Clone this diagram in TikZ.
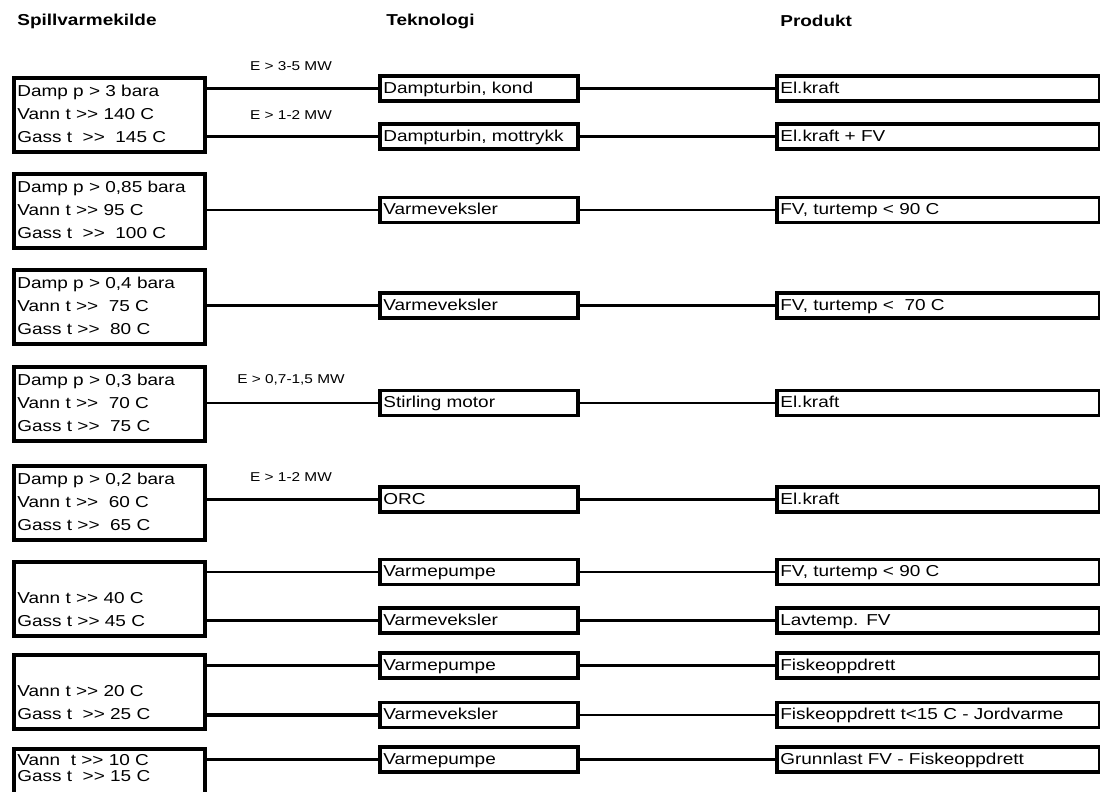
\documentclass[tikz,border=0pt]{standalone}
\usepackage{fontspec}
\setmainfont{Liberation Sans}[FakeStretch=1.2, Ligatures=TeXOff]
\begin{document}
\begin{tikzpicture}[x=0.02cm, y=-0.02cm,
        kilde/.style={draw, line width=2.1pt, anchor=north west, inner xsep=2pt, inner ysep=0pt,
            text width=3.68cm, minimum height=1.48cm, align=left, font=\fontsize{9}{13}\selectfont},
        tekno/.style={draw, line width=2.1pt, anchor=west, inner xsep=2pt, inner ysep=0pt,
            text width=3.82cm, minimum height=0.5cm, align=left, font=\fontsize{9}{13}\selectfont},
        produkt/.style={tekno, text width=6.32cm},
        effekt/.style={inner sep=0pt, font=\fontsize{7.3}{9}\selectfont},
        overskrift/.style={anchor=west, inner sep=0pt, font=\bfseries\fontsize{9}{11}\selectfont},
        link/.style={line width=1.5pt}]
            \def\kildex{12}
            \def\teknox{378}
            \def\produktx{775}
            \def\effektx{291}
            \clip (0,0) rectangle (1100,792);
            % kolonneoverskrifter
            \node[overskrift] (hKilde) at (17, 21) {Spillvarmekilde};
            \node[overskrift] (hTekno) at (386, 21) {Teknologi};
            \node[overskrift] (hProd) at (780, 21) {Produkt};
            % spillvarmekilder
            \node[kilde] (K1) at (\kildex, 76) {\strut Damp p > 3 bara\\\strut Vann t >> 140 C\\\strut Gass t~ >>~ 145 C};
            \node[kilde] (K2) at (\kildex, 172) {\strut Damp p > 0,85 bara\\\strut Vann t >> 95 C\\\strut Gass t~ >>~ 100 C};
            \node[kilde] (K3) at (\kildex, 268) {\strut Damp p > 0,4 bara\\\strut Vann t >>~ 75 C\\\strut Gass t >>~ 80 C};
            \node[kilde] (K4) at (\kildex, 365) {\strut Damp p > 0,3 bara\\\strut Vann t >>~ 70 C\\\strut Gass t >>~ 75 C};
            \node[kilde] (K5) at (\kildex, 464) {\strut Damp p > 0,2 bara\\\strut Vann t >>~ 60 C\\\strut Gass t >>~ 65 C};
            \node[kilde] (K6) at (\kildex, 560) {\strut\\\strut Vann t >> 40 C\\\strut Gass t >> 45 C};
            \node[kilde] (K7) at (\kildex, 653) {\strut\\\strut Vann t >> 20 C\\\strut Gass t~ >> 25 C};
            \node[kilde, minimum height=1.12cm] (K8) at (\kildex, 747) {\strut Vann~ t >> 10 C\\[-4pt]\strut Gass t~ >> 15 C\\[-4pt]\strut};
            % teknologier
            \node[tekno] (T1) at (\teknox, 88.5) {\strut Dampturbin, kond};
            \node[tekno] (T2) at (\teknox, 136.5) {\strut Dampturbin, mottrykk};
            \node[tekno] (T3) at (\teknox, 210) {\strut Varmeveksler};
            \node[tekno] (T4) at (\teknox, 305.5) {\strut Varmeveksler};
            \node[tekno] (T5) at (\teknox, 403) {\strut Stirling motor};
            \node[tekno] (T6) at (\teknox, 499.5) {\strut ORC};
            \node[tekno] (T7) at (\teknox, 572) {\strut Varmepumpe};
            \node[tekno] (T8) at (\teknox, 620.5) {\strut Varmeveksler};
            \node[tekno] (T9) at (\teknox, 665.5) {\strut Varmepumpe};
            \node[tekno] (T10) at (\teknox, 715) {\strut Varmeveksler};
            \node[tekno] (T11) at (\teknox, 759.5) {\strut Varmepumpe};
            % produkter
            \node[produkt] (P1) at (\produktx, 88.5) {\strut El.kraft};
            \node[produkt] (P2) at (\produktx, 136.5) {\strut El.kraft + FV};
            \node[produkt] (P3) at (\produktx, 210) {\strut FV, turtemp < 90 C};
            \node[produkt] (P4) at (\produktx, 305.5) {\strut FV, turtemp <~ 70 C};
            \node[produkt] (P5) at (\produktx, 403) {\strut El.kraft};
            \node[produkt] (P6) at (\produktx, 499.5) {\strut El.kraft};
            \node[produkt] (P7) at (\produktx, 572) {\strut FV, turtemp < 90 C};
            \node[produkt] (P8) at (\produktx, 620.5) {\strut Lavtemp. FV};
            \node[produkt] (P9) at (\produktx, 665.5) {\strut Fiskeoppdrett};
            \node[produkt] (P10) at (\produktx, 715) {\strut Fiskeoppdrett t<15 C - Jordvarme};
            \node[produkt] (P11) at (\produktx, 759.5) {\strut Grunnlast FV - Fiskeoppdrett};
            % effektgrenser
            \node[effekt] (E1) at (\effektx, 66) {E > 3-5 MW};
            \node[effekt] (E2) at (\effektx, 115) {E > 1-2 MW};
            \node[effekt] (E5) at (\effektx, 380) {E > 0,7-1,5 MW};
            \node[effekt] (E6) at (\effektx, 477) {E > 1-2 MW};
            % kilde -> teknologi
            \draw[link] (K1.east |- T1.west) -- (T1.west);
            \draw[link] (K1.east |- T2.west) -- (T2.west);
            \draw[link] (K2.east |- T3.west) -- (T3.west);
            \draw[link] (K3.east |- T4.west) -- (T4.west);
            \draw[link] (K4.east |- T5.west) -- (T5.west);
            \draw[link] (K5.east |- T6.west) -- (T6.west);
            \draw[link] (K6.east |- T7.west) -- (T7.west);
            \draw[link] (K6.east |- T8.west) -- (T8.west);
            \draw[link] (K7.east |- T9.west) -- (T9.west);
            \draw[link, line width=2.1pt] (K7.east |- T10.west) -- (T10.west);
            \draw[link] (K8.east |- T11.west) -- (T11.west);
            % teknologi -> produkt
            \draw[link] (T1.east) -- (P1.west);
            \draw[link] (T2.east) -- (P2.west);
            \draw[link] (T3.east) -- (P3.west);
            \draw[link] (T4.east) -- (P4.west);
            \draw[link] (T5.east) -- (P5.west);
            \draw[link] (T6.east) -- (P6.west);
            \draw[link] (T7.east) -- (P7.west);
            \draw[link] (T8.east) -- (P8.west);
            \draw[link] (T9.east) -- (P9.west);
            \draw[link] (T10.east) -- (P10.west);
            \draw[link] (T11.east) -- (P11.west);
        \end{tikzpicture}
\end{document}
